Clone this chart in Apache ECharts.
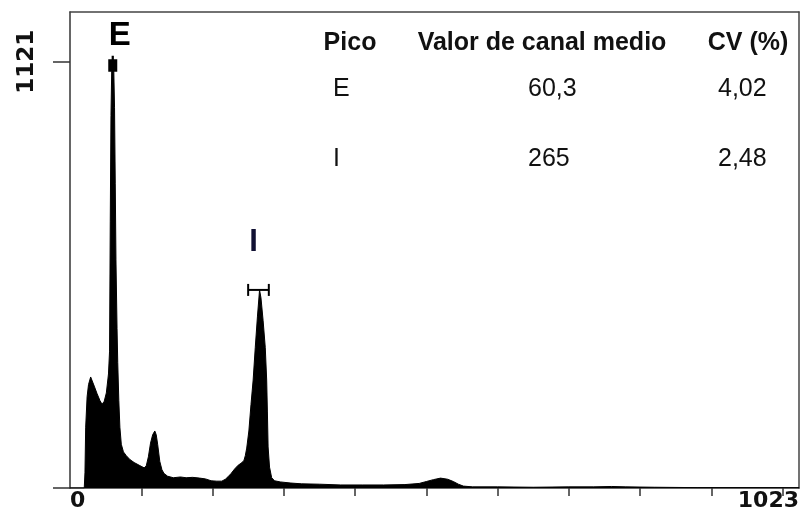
<!DOCTYPE html>
<html>
<head>
<meta charset="utf-8">
<script src="https://cdn.jsdelivr.net/npm/echarts@6/dist/echarts.min.js"></script>
<style>html,body{margin:0;padding:0;background:#fff;}#c{width:806px;height:515px;}</style>
</head>
<body>
<div id="c"></div>
<script>
// ---- data ----
var histogram = [
  [0,0],[20,0],[21,40],[22,160],[24,240],[26,272],[29,292],[31,288],[34,268],[38,248],[42,230],[45,220],[48,228],[51,250],[54,300],[55.5,360],
  [56.5,700],[57.5,980],[58.5,1095],[60,1121],[61.5,1095],[62.5,1000],[63.5,800],[64.5,600],[66,420],[67,330],[68.5,230],[70,160],[72,115],
  [75,95],[79,85],[84,75],[90,67],[97,60],[101,56],[104,53],[107,58],[110,82],[113,118],[116,140],[119,150],[121,140],[123,115],[126,70],
  [129,48],[132,38],[137,31],[145,27],[155,29],[163,27],[172,28],[182,26],[190,24],[198,19],[206,18],[213,18],[218,23],[222,30],[226,38],
  [231,50],[236,60],[240,65],[244,72],[246,85],[248,105],[251,150],[254,220],[257,284],[260,370],[263,450],[266,521],[268,500],[271,440],
  [274,370],[276,284],[277,200],[278,108],[280,55],[283,27],[287,19],[295,16],[310,13],[325,11],[350,10],[380,8],[410,8],[440,8],[470,9],
  [490,12],[500,17],[510,22],[520,26],[530,23],[538,17],[545,10],[552,5],[565,3],[600,3],[650,2],[700,3],[735,3],[760,4],[780,3],[820,2],
  [880,1],[950,1],[1023,1]
];
var xMin = 0, xMax = 1023;
var yMin = 0, yMax = 1252;
var xTickValues = [100,200,300,400,500,600,700,800,900,1000];
var xLabelValues = [0,1023];
var yTickValues = [0,1121];
var yLabelValues = [1121];
var peakNames = ['E','I'];
var peakChannels = [60,266];
var peakCounts = [1121,521];
var iBracket = [250,279,521]; // from channel, to channel, count
var tableHeader = ['Pico','Valor de canal medio','CV (%)'];
var tablePico = ['E','I'];
var tableMean = ['60,3','265'];
var tableCV = ['4,02','2,48'];

// ---- chart ----
var chart = echarts.init(document.getElementById('c'), null, {renderer:'canvas'});
var axisCol = '#333';
var labFont = 'Liberation Sans, Arial, sans-serif';
var txtCol = '#111';

var tableGraphics = [];
var colX = [350,542,748];
tableHeader.forEach(function(t,i){
  tableGraphics.push({type:'text', x:colX[i], y:43,
    style:{text:t, font:'bold 25px Liberation Sans, Arial, sans-serif', fill:txtCol, align:'center', verticalAlign:'middle'}});
});
var rowY = [89,159];
var valX = [333,528,718];
for (var r=0;r<tablePico.length;r++){
  [tablePico[r], tableMean[r], tableCV[r]].forEach(function(t,i){
    tableGraphics.push({type:'text', x:valX[i], y:rowY[r],
      style:{text:t, font:'25px Liberation Sans, Arial, sans-serif', fill:txtCol, align:'left', verticalAlign:'middle'}});
  });
}

var peakLabelData = peakNames.map(function(n,i){
  return {
    value:[peakChannels[i], peakCounts[i]],
    label:{show:true, formatter:n, position:'inside', opacity:1,
      offset: i===0 ? [7,-26] : [-6,-47],
      fontSize: i===0 ? 33 : 31, fontWeight:'bold', fontFamily:labFont, color: i===0 ? '#000' : '#111133'}
  };
});

var option = {
  animation:false,
  backgroundColor:'#fff',
  grid:{left:70, right:7, top:12, bottom:27, outerBoundsMode:'none', containLabel:false},
  xAxis:[{
    type:'value', min:xMin, max:xMax, position:'bottom',
    axisLine:{show:true, onZero:false, lineStyle:{color:axisCol, width:1.5}},
    axisTick:{show:true, customValues:xTickValues, length:8, lineStyle:{color:axisCol, width:1.5}},
    axisLabel:{show:true, customValues:xLabelValues, margin:2, color:txtCol,
      formatter:function(v){return String(v);},
      fontFamily:'DejaVu Sans, sans-serif', fontWeight:'bold', fontSize:22,
      alignMinLabel:'left', alignMaxLabel:'right'},
    splitLine:{show:false}
  },{
    type:'value', min:xMin, max:xMax, position:'top',
    axisLine:{show:true, onZero:false, lineStyle:{color:'#444', width:1.5}},
    axisTick:{show:false}, axisLabel:{show:false}, splitLine:{show:false}
  }],
  yAxis:[{
    type:'value', min:yMin, max:yMax, position:'left',
    axisLine:{show:true, onZero:false, lineStyle:{color:axisCol, width:1.5}},
    axisTick:{show:true, customValues:yTickValues, length:17, lineStyle:{color:axisCol, width:1.5}},
    axisLabel:{show:true, customValues:yLabelValues, rotate:90, margin:31, color:txtCol,
      formatter:function(v){return String(v);},
      fontFamily:'DejaVu Sans, sans-serif', fontWeight:'bold', fontSize:23},
    splitLine:{show:false}
  },{
    type:'value', min:yMin, max:yMax, position:'right',
    axisLine:{show:true, onZero:false, lineStyle:{color:'#444', width:1.5}},
    axisTick:{show:false}, axisLabel:{show:false}, splitLine:{show:false}
  }],
  series:[{
    type:'line', data:histogram, showSymbol:false, symbol:'none', smooth:false,
    lineStyle:{color:'#000', width:1}, areaStyle:{color:'#000', opacity:1},
    z:2,
    markPoint:{
      symbol:'path://M3,0 L5,0 L5,3 L8,3 L8,14 L0,14 L0,3 L3,3 Z',
      symbolSize:[9,16], symbolOffset:[0,2],
      itemStyle:{color:'#000'}, label:{show:false},
      data:[{coord:[peakChannels[0], peakCounts[0]]}]
    }
  },{
    type:'custom',
    data:[iBracket],
    renderItem:function(params, api){
      var a = api.coord([api.value(0), api.value(2)]);
      var b = api.coord([api.value(1), api.value(2)]);
      var h = 6;
      var st = {stroke:'#000', lineWidth:2};
      return {type:'group', children:[
        {type:'line', shape:{x1:a[0], y1:a[1], x2:b[0], y2:b[1]}, style:st},
        {type:'line', shape:{x1:a[0], y1:a[1]-h, x2:a[0], y2:a[1]+h}, style:st},
        {type:'line', shape:{x1:b[0], y1:b[1]-h, x2:b[0], y2:b[1]+h}, style:st}
      ]};
    },
    z:3
  },{
    type:'scatter', data:peakLabelData, symbolSize:1,
    itemStyle:{color:'rgba(255,255,255,0)', opacity:1}, z:4
  }],
  graphic:tableGraphics
};
chart.setOption(option);
</script>
</body>
</html>
